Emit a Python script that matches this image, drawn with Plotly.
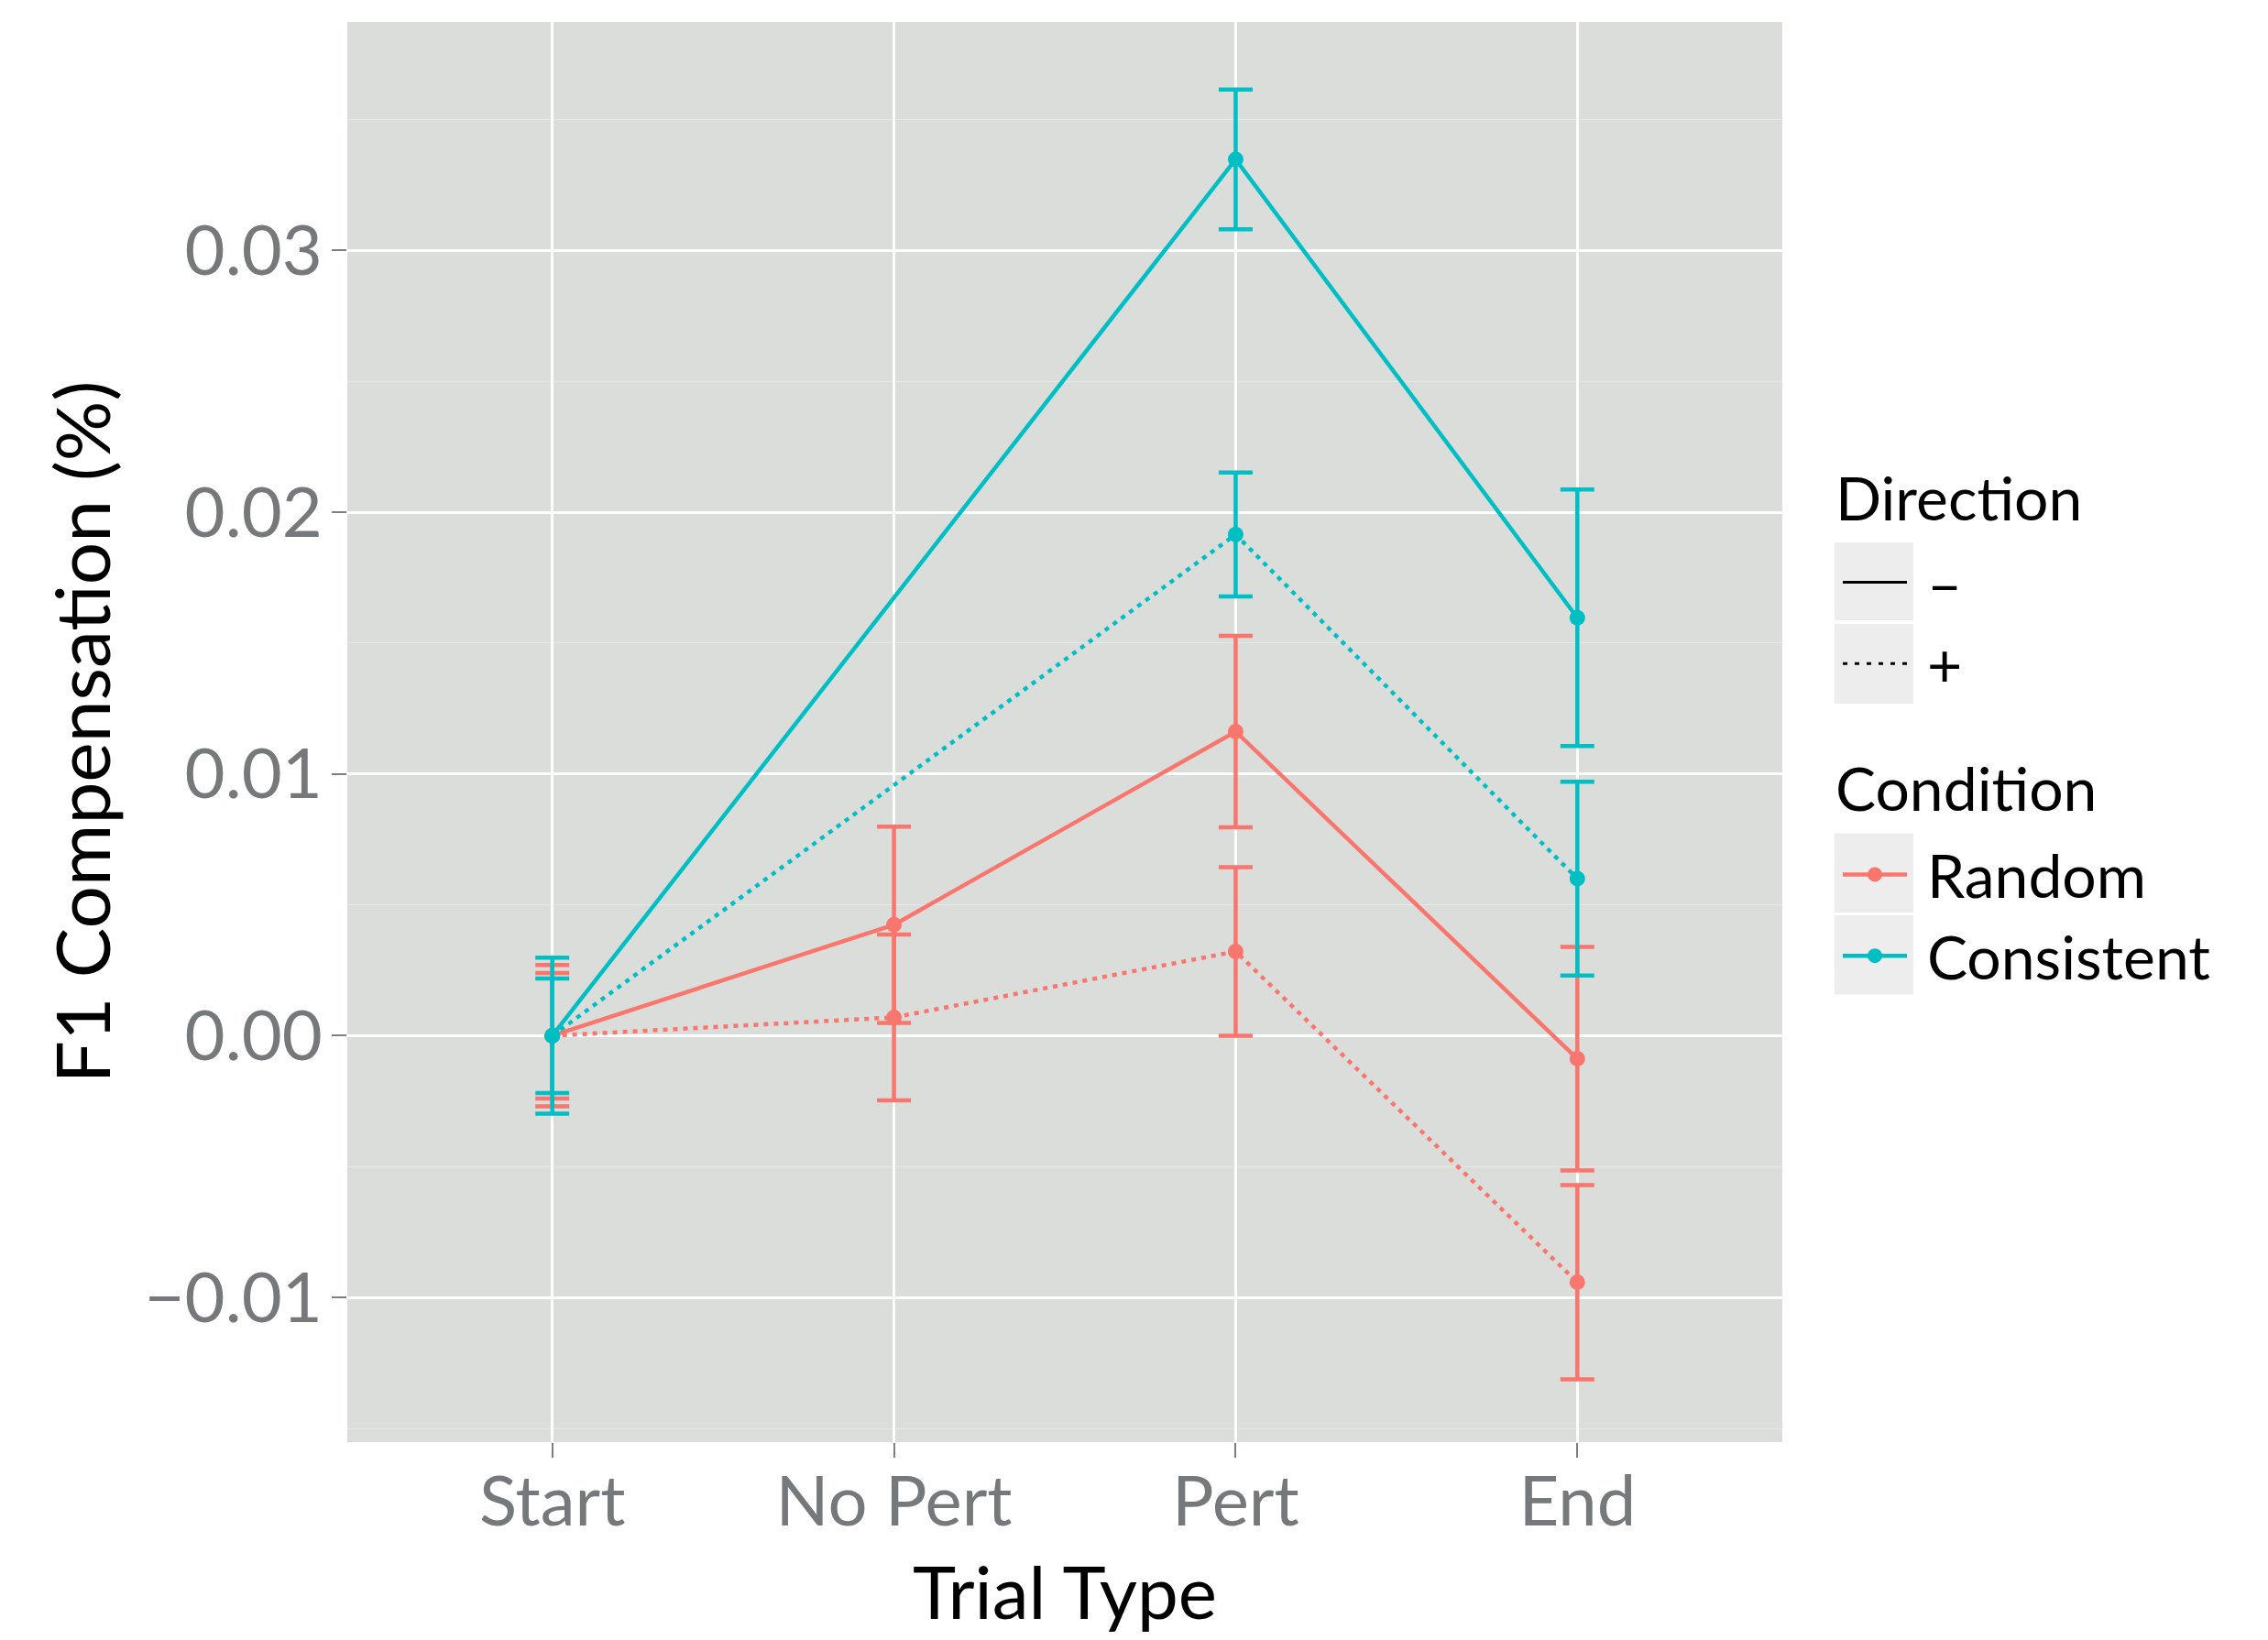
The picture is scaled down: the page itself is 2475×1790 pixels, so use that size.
import plotly.graph_objects as go

# ---------------- data ----------------
categories = ["Start", "No Pert", "Pert", "End"]

random_minus = [0.0, 0.00424, 0.01162, -0.00088]
random_minus_err = [0.00270, 0.00375, 0.00366, 0.00427]
random_plus = [0.0, 0.00070, 0.00322, -0.00942]
random_plus_err = [0.00240, 0.00317, 0.00322, 0.00371]

consistent_minus = [0.0, None, 0.03348, 0.01597]
consistent_minus_err = [0.00298, 0.0, 0.00267, 0.00490]
consistent_plus = [0.0, None, 0.01915, 0.00600]
consistent_plus_err = [0.00219, 0.0, 0.00237, 0.00370]

direction_labels = ["\u2013", "+"]
condition_labels = ["Random", "Consistent"]

y_ticks = [-0.01, 0.0, 0.01, 0.02, 0.03]
y_range = [-0.015525, 0.03873]

RED = "#F8766D"
TEAL = "#00BFC4"
FONT = "Lato"
W, H = 2475, 1790
L, R, T, B = 379, 530, 24, 216

LW = 4.5
DOT = "5px,6px"

fig = go.Figure()


def add_series(y, err, color, dash):
    fig.add_trace(go.Scatter(
        x=categories, y=y, mode="lines+markers", connectgaps=True,
        line=dict(color=color, width=LW, dash=dash),
        marker=dict(color=color, size=17),
        error_y=dict(type="data", array=err, visible=True, color=color,
                     thickness=4.5, width=18.5),
        showlegend=False, hoverinfo="x+y",
    ))


add_series(random_minus, random_minus_err, RED, "solid")
add_series(random_plus, random_plus_err, RED, DOT)
add_series(consistent_minus, consistent_minus_err, TEAL, "solid")
add_series(consistent_plus, consistent_plus_err, TEAL, DOT)

# legend entries
NB = "\u00a0"
fig.add_trace(go.Scatter(x=[None], y=[None], mode="lines", name=NB + direction_labels[0],
                         line=dict(color="black", width=3), legend="legend"))
fig.add_trace(go.Scatter(x=[None], y=[None], mode="lines", name=NB + direction_labels[1],
                         line=dict(color="black", width=3, dash="5px,8px"), legend="legend"))
fig.add_trace(go.Scatter(x=[None], y=[None], mode="lines+markers", name=NB + condition_labels[0],
                         line=dict(color=RED, width=LW), marker=dict(color=RED, size=20),
                         legend="legend2"))
fig.add_trace(go.Scatter(x=[None], y=[None], mode="lines+markers", name=NB + condition_labels[1],
                         line=dict(color=TEAL, width=LW), marker=dict(color=TEAL, size=20),
                         legend="legend2"))

pw = W - L - R
ph = H - T - B


def px2x(xp):
    return (xp - L) / pw


def px2y(yp):
    return 1 - (yp - T) / ph


legend_common = dict(
    bgcolor="rgba(0,0,0,0)", itemwidth=70,
    font=dict(family=FONT, size=66, color="black"),
    xanchor="left", yanchor="top",
)

# legend key backgrounds
shapes = []
for (y0, y1) in [(592, 677), (681, 768), (909.5, 996), (999, 1085.5)]:
    shapes.append(dict(type="rect", xref="paper", yref="paper",
                       x0=px2x(2002), x1=px2x(2088), y0=px2y(y1), y1=px2y(y0),
                       fillcolor="#EDEDED", line=dict(width=0), layer="below"))

annotations = [
    dict(text="Direction", xref="paper", yref="paper", x=px2x(2001), y=px2y(542),
         xanchor="left", yanchor="middle", showarrow=False,
         font=dict(family=FONT, size=66, color="black")),
    dict(text="Condition", xref="paper", yref="paper", x=px2x(2001), y=px2y(859),
         xanchor="left", yanchor="middle", showarrow=False,
         font=dict(family=FONT, size=66, color="black")),
]

fig.update_layout(
    width=W, height=H,
    margin=dict(l=L, r=R, t=T, b=B, autoexpand=False),
    paper_bgcolor="white", plot_bgcolor="#DBDDDA",
    font=dict(family=FONT),
    shapes=shapes, annotations=annotations,
    legend=dict(**legend_common, x=px2x(2006), y=px2y(586)),
    legend2=dict(**legend_common, x=px2x(2006), y=px2y(905)),
    xaxis=dict(
        type="category", categoryorder="array", categoryarray=categories,
        range=[-0.6, 3.6], showgrid=True, gridcolor="white", gridwidth=2.8,
        ticks="outside", ticklen=16, tickwidth=2.3, tickcolor="#7F7F7F",
        ticklabelstandoff=-17,
        tickfont=dict(family=FONT, size=76, color="#76797B"),
        showline=False, zeroline=False,
        title=dict(text="Trial Type", font=dict(family=FONT, size=80, color="black"), standoff=30),
    ),
    yaxis=dict(
        range=y_range, tickvals=y_ticks, tickformat=".2f",
        showgrid=True, gridcolor="white", gridwidth=2.8,
        minor=dict(dtick=0.005, tick0=0, showgrid=True, gridcolor="#E8E9E7", gridwidth=1.4, ticks=""),
        ticks="outside", ticklen=16, tickwidth=2.3, tickcolor="#7F7F7F",
        ticklabelstandoff=-5,
        tickfont=dict(family=FONT, size=76, color="#76797B"),
        showline=False, zeroline=False,
        title=dict(text="F1 Compensation (%)", font=dict(family=FONT, size=82, color="black"), standoff=9),
    ),
)

fig.write_html("out.html", config={"displayModeBar": False},
               post_script="document.body.style.margin='0';document.body.style.overflow='hidden';")
